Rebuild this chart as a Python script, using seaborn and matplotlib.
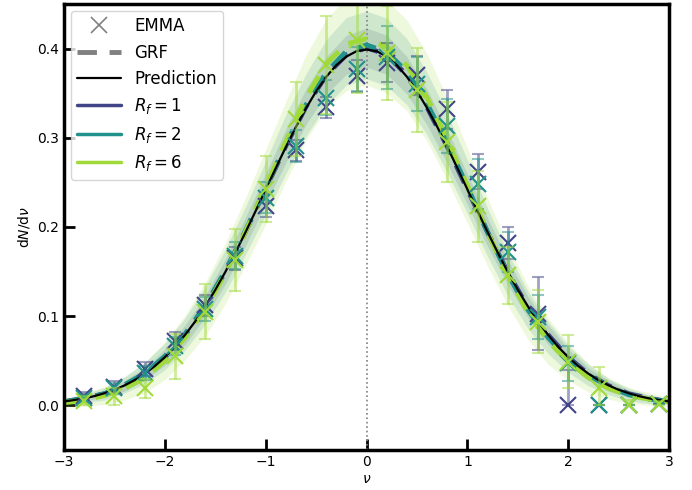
import numpy as np
import matplotlib
matplotlib.use("Agg")
import matplotlib.pyplot as plt
import seaborn as sns
from matplotlib.lines import Line2D

# Prediction (Gaussian dN/dnu) read on a 0.1 grid
x_pred = [-3.0, -2.9, -2.8, -2.7, -2.6, -2.5, -2.4, -2.3, -2.2, -2.1,
          -2.0, -1.9, -1.8, -1.7, -1.6, -1.5, -1.4, -1.3, -1.2, -1.1,
          -1.0, -0.9, -0.8, -0.7, -0.6, -0.5, -0.4, -0.3, -0.2, -0.1,
          0.0, 0.1, 0.2, 0.3, 0.4, 0.5, 0.6, 0.7, 0.8, 0.9,
          1.0, 1.1, 1.2, 1.3, 1.4, 1.5, 1.6, 1.7, 1.8, 1.9,
          2.0, 2.1, 2.2, 2.3, 2.4, 2.5, 2.6, 2.7, 2.8, 2.9, 3.0]
y_pred = [0.0044, 0.0060, 0.0079, 0.0104, 0.0136, 0.0175, 0.0224, 0.0283, 0.0355, 0.0440,
          0.0540, 0.0656, 0.0790, 0.0940, 0.1109, 0.1295, 0.1497, 0.1714, 0.1942, 0.2179,
          0.2420, 0.2661, 0.2897, 0.3123, 0.3332, 0.3521, 0.3683, 0.3814, 0.3910, 0.3970,
          0.3989, 0.3970, 0.3910, 0.3814, 0.3683, 0.3521, 0.3332, 0.3123, 0.2897, 0.2661,
          0.2420, 0.2179, 0.1942, 0.1714, 0.1497, 0.1295, 0.1109, 0.0940, 0.0790, 0.0656,
          0.0540, 0.0440, 0.0355, 0.0283, 0.0224, 0.0175, 0.0136, 0.0104, 0.0079, 0.0060, 0.0044]

# GRF mean and spread, 0.2 grid
x_grf = [-3.0, -2.8, -2.6, -2.4, -2.2, -2.0, -1.8, -1.6, -1.4, -1.2, -1.0,
         -0.8, -0.6, -0.4, -0.2, 0.0, 0.2, 0.4, 0.6, 0.8, 1.0,
         1.2, 1.4, 1.6, 1.8, 2.0, 2.2, 2.4, 2.6, 2.8, 3.0]
grf_r1 = [0.004, 0.008, 0.013, 0.022, 0.035, 0.054, 0.079, 0.111, 0.150, 0.195, 0.243,
          0.291, 0.335, 0.370, 0.393, 0.401, 0.393, 0.370, 0.334, 0.290, 0.242,
          0.194, 0.149, 0.110, 0.079, 0.054, 0.035, 0.022, 0.013, 0.008, 0.004]
grf_r2 = [0.004, 0.008, 0.013, 0.023, 0.036, 0.055, 0.080, 0.112, 0.151, 0.196, 0.244,
          0.293, 0.337, 0.373, 0.397, 0.404, 0.396, 0.374, 0.338, 0.294, 0.245,
          0.194, 0.147, 0.107, 0.076, 0.052, 0.034, 0.021, 0.012, 0.007, 0.004]
grf_r6 = [0.003, 0.006, 0.011, 0.019, 0.031, 0.050, 0.076, 0.108, 0.148, 0.195, 0.245,
          0.296, 0.345, 0.383, 0.405, 0.411, 0.402, 0.381, 0.345, 0.298, 0.246,
          0.194, 0.146, 0.104, 0.072, 0.049, 0.031, 0.019, 0.011, 0.007, 0.004]
sig_r1 = [0.002, 0.003, 0.004, 0.006, 0.007, 0.009, 0.011, 0.012, 0.014, 0.016, 0.017,
          0.019, 0.020, 0.021, 0.022, 0.022, 0.022, 0.021, 0.020, 0.019, 0.017,
          0.016, 0.014, 0.012, 0.011, 0.009, 0.007, 0.006, 0.004, 0.003, 0.002]
sig_r2 = [0.003, 0.005, 0.007, 0.009, 0.012, 0.015, 0.018, 0.021, 0.024, 0.027, 0.030,
          0.033, 0.035, 0.037, 0.038, 0.038, 0.038, 0.037, 0.035, 0.033, 0.030,
          0.027, 0.024, 0.021, 0.018, 0.015, 0.012, 0.009, 0.007, 0.005, 0.003]
sig_r6 = [0.005, 0.007, 0.010, 0.013, 0.017, 0.021, 0.025, 0.030, 0.034, 0.038, 0.042,
          0.045, 0.048, 0.050, 0.052, 0.052, 0.052, 0.051, 0.049, 0.046, 0.042,
          0.038, 0.034, 0.030, 0.026, 0.021, 0.016, 0.012, 0.009, 0.007, 0.005]

# EMMA measurements
x_emma = [-2.8, -2.5, -2.2, -1.9, -1.6, -1.3, -1.0, -0.7, -0.4, -0.1,
          0.2, 0.5, 0.8, 1.1, 1.4, 1.7, 2.0, 2.3, 2.6, 2.9]
emma_r1 = [0.011, 0.021, 0.041, 0.072, 0.112, 0.165, 0.224, 0.286, 0.334, 0.369,
           0.384, 0.370, 0.332, 0.262, 0.182, 0.103, 0.0, 0.0, 0.0, 0.002]
err_r1 = [0.004, 0.006, 0.008, 0.010, 0.012, 0.013, 0.013, 0.012, 0.012, 0.018,
          0.022, 0.022, 0.022, 0.020, 0.018, 0.041, 0.040, 0.0, 0.0, 0.0]
emma_r2 = [0.008, 0.019, 0.036, 0.067, 0.108, 0.168, 0.233, 0.291, 0.345, 0.377,
           0.390, 0.360, 0.313, 0.248, 0.172, 0.099, 0.047, 0.0, 0.0, 0.002]
err_r2 = [0.004, 0.006, 0.008, 0.010, 0.013, 0.015, 0.017, 0.018, 0.020, 0.025,
          0.035, 0.030, 0.030, 0.028, 0.022, 0.025, 0.020, 0.0, 0.0, 0.0]
emma_r6 = [0.005, 0.010, 0.019, 0.055, 0.105, 0.163, 0.243, 0.321, 0.382, 0.410,
           0.395, 0.354, 0.295, 0.223, 0.146, 0.094, 0.049, 0.020, 0.001, 0.002]
err_r6 = [0.005, 0.010, 0.011, 0.025, 0.031, 0.035, 0.037, 0.042, 0.055, 0.060,
          0.053, 0.047, 0.045, 0.040, 0.032, 0.035, 0.030, 0.023, 0.005, 0.003]

labels = [r"$R_f = 1$", r"$R_f = 2$", r"$R_f = 6$"]
colors = ["#414487", "#21918c", "#a0da39"]

sns.set_style("white")
plt.rcParams.update({
    "text.color": "black", "axes.labelcolor": "black",
    "xtick.color": "black", "ytick.color": "black", "axes.edgecolor": "black",
})
fig = plt.figure(figsize=(6.92, 4.9), dpi=100)
ax = fig.add_axes([0.0925, 0.0816, 0.8745, 0.9104])

grf = [(grf_r1, sig_r1), (grf_r2, sig_r2), (grf_r6, sig_r6)]
emma = [(emma_r1, err_r1), (emma_r2, err_r2), (emma_r6, err_r6)]

# spread bands
for (m, s), c in zip(grf, colors):
    m = np.array(m)
    s = np.array(s)
    ax.fill_between(x_grf, m - s, m + s, color=c, alpha=0.17, lw=0)

ax.axvline(0, color="grey", ls=":", lw=1.2, zorder=1)

# GRF means
for (m, s), c in zip(grf, colors):
    sns.lineplot(x=x_grf, y=m, ax=ax, color=c, lw=3.5, dashes=False)
    ax.lines[-1].set_dashes([4, 2.6])

sns.lineplot(x=x_pred, y=y_pred, ax=ax, color="black", lw=1.6)

# EMMA with errorbars (counts can't go below zero)
for (v, e), c in zip(emma, colors):
    v = np.array(v)
    e = np.array(e)
    ax.errorbar(x_emma, v, yerr=[np.minimum(e, v), e], fmt="none", ecolor=c,
                alpha=0.5, elinewidth=2, capsize=4, capthick=1.5)
    ax.plot(x_emma, v, ls="none", marker="x", ms=12, mew=1.5, color=c)

ax.set_xlim(-3, 3)
ax.set_ylim(-0.05, 0.45)
ax.set_xticks([-3, -2, -1, 0, 1, 2, 3])
ax.set_xticklabels(["\u22123", "\u22122", "\u22121", "0", "1", "2", "3"])
ax.set_yticks([0.0, 0.1, 0.2, 0.3, 0.4])
ax.tick_params(bottom=True, left=True, direction="in", length=8, width=2,
               labelsize=10, pad=3.5)
for sp in ax.spines.values():
    sp.set_linewidth(2.5)
ax.set_xlabel(r"$\nu$", fontsize=10, labelpad=2)
ax.set_ylabel(r"d$N$/d$\nu$", fontsize=10)

handles = [
    Line2D([], [], ls="none", marker="x", ms=12, mew=1.2, color="grey"),
    Line2D([], [], ls="--", lw=3.5, color="grey", dashes=[4, 2.6]),
    Line2D([], [], color="black", lw=1.6),
] + [Line2D([], [], color=c, lw=2.5) for c in colors]
ax.legend(handles, ["EMMA", "GRF", "Prediction"] + labels, loc="upper left",
          fontsize=12, frameon=True, borderaxespad=0.4, handlelength=2.6,
          labelspacing=0.5)

fig.savefig("out.png", dpi=100)
